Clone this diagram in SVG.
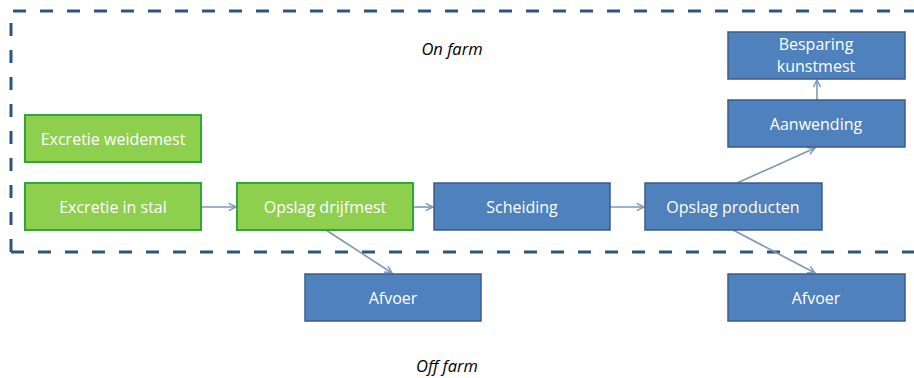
<svg xmlns="http://www.w3.org/2000/svg" width="914" height="378" viewBox="0 0 914 378">
<style>
.g{fill:#8FCF4E;stroke:#2EA836;stroke-width:2}
.b{fill:#4F81BD;stroke:#385D8A;stroke-width:1.5}
.t{font-family:"Open Sans","Liberation Sans",sans-serif;font-size:16px;fill:#fff;text-anchor:middle}
.i{font-family:"Open Sans","Liberation Sans",sans-serif;font-size:16.5px;font-style:italic;fill:#000;text-anchor:middle}
.c{stroke:#7F96B8;stroke-width:1.6;fill:none;marker-end:url(#a)}
</style>
<defs>
<marker id="a" viewBox="0 0 10 10" refX="9" refY="5" markerWidth="9" markerHeight="9" markerUnits="userSpaceOnUse" orient="auto">
<path d="M1,1 L9,5 L1,9" fill="none" stroke="#7F96B8" stroke-width="1.6"/>
</marker>
</defs>
<path d="M11,252 V11 H930 M11,252 H930" fill="none" stroke="#2F5480" stroke-width="3" stroke-dasharray="13 14"/>
<text class="i" x="452" y="55">On farm</text>
<text class="i" x="447" y="372">Off farm</text>
<g id="connectors">
<line class="c" x1="201" y1="207" x2="236" y2="207"/>
<line class="c" x1="413" y1="207" x2="433" y2="207"/>
<line class="c" x1="610" y1="207" x2="644" y2="207"/>
<line class="c" x1="737" y1="183" x2="815" y2="148"/>
<line class="c" x1="817" y1="100" x2="817" y2="80"/>
<line class="c" x1="326" y1="230" x2="392" y2="273"/>
<line class="c" x1="733" y1="230" x2="815" y2="273"/>
</g>
<g id="excretie-weidemest"><rect class="g" x="25" y="115" width="176" height="47"/><text class="t" x="113" y="144.5">Excretie weidemest</text></g>
<g id="excretie-in-stal"><rect class="g" x="25" y="183" width="176" height="47"/><text class="t" x="113" y="212.5">Excretie in stal</text></g>
<g id="opslag-drijfmest"><rect class="g" x="237" y="183" width="176" height="47"/><text class="t" x="325" y="212.5">Opslag drijfmest</text></g>
<g id="scheiding"><rect class="b" x="434" y="183" width="176" height="47"/><text class="t" x="522" y="212.5">Scheiding</text></g>
<g id="opslag-producten"><rect class="b" x="645" y="183" width="177" height="47"/><text class="t" x="733" y="212.5">Opslag producten</text></g>
<g id="aanwending"><rect class="b" x="728" y="100" width="177" height="47"/><text class="t" x="816" y="129.5">Aanwending</text></g>
<g id="besparing-kunstmest"><rect class="b" x="728" y="32" width="177" height="47"/><text class="t" x="816" y="50">Besparing</text><text class="t" x="816" y="72">kunstmest</text></g>
<g id="afvoer-1"><rect class="b" x="305" y="274" width="176" height="47"/><text class="t" x="393" y="303.5">Afvoer</text></g>
<g id="afvoer-2"><rect class="b" x="728" y="274" width="177" height="47"/><text class="t" x="816" y="303.5">Afvoer</text></g>
</svg>
